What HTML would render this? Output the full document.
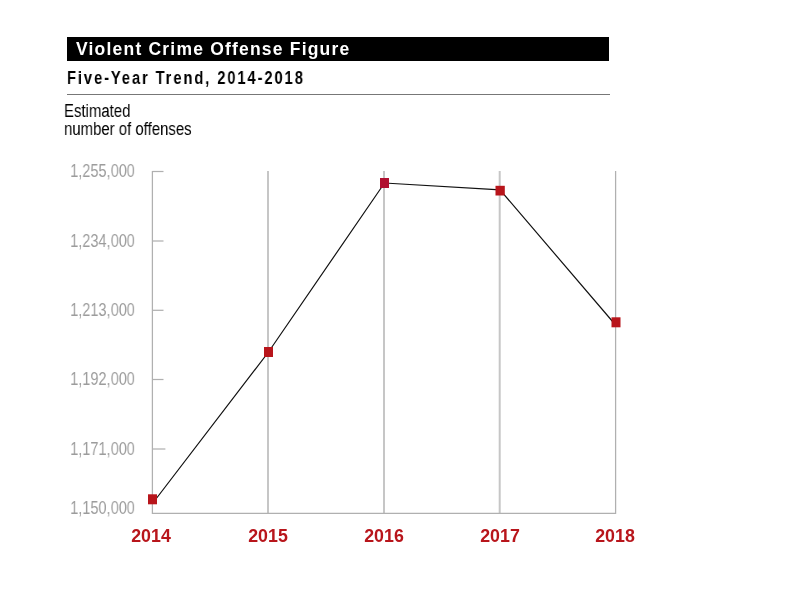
<!DOCTYPE html>
<html><head><meta charset="utf-8">
<style>
html,body{margin:0;padding:0;background:#fff;width:800px;height:600px;overflow:hidden;position:relative}
body{font-family:"Liberation Sans",sans-serif;-webkit-font-smoothing:antialiased}
.abs{will-change:transform}
.abs{position:absolute;white-space:nowrap}
#bar{left:67px;top:37px;width:542px;height:24px;background:#000}
#title{left:76px;top:38px;font-weight:bold;font-size:17.5px;line-height:22px;color:#fff;letter-spacing:1.2px}
#sub{left:67px;top:68px;font-weight:bold;font-size:18px;line-height:20px;color:#000;letter-spacing:2.3px;transform-origin:0 0;transform:scaleX(0.82)}
#rule{left:67px;top:94px;width:543px;height:1px;background:#777}
.narrow{transform-origin:0 0;transform:scaleX(0.85)}
#ylab{left:64px;top:102px;font-size:18px;line-height:18px;color:#000;transform:scaleX(0.83)}
.yt{font-size:17.5px;color:#9c9c9c;line-height:18px;transform-origin:100% 0;transform:scaleX(0.83);right:665px}
.xl{font-weight:bold;font-size:17.8px;color:#b8151b;line-height:18px;width:60px;text-align:center}
svg{position:absolute;left:0;top:0}
</style></head><body>
<div id="bar" class="abs"></div>
<div id="title" class="abs">Violent Crime Offense Figure</div>
<div id="sub" class="abs">Five-Year Trend, 2014-2018</div>
<div id="rule" class="abs"></div>
<div id="ylab" class="abs narrow">Estimated<br>number of offenses</div>

<div class="abs yt" style="top:162px">1,255,000</div>
<div class="abs yt" style="top:232px">1,234,000</div>
<div class="abs yt" style="top:301px">1,213,000</div>
<div class="abs yt" style="top:370px">1,192,000</div>
<div class="abs yt" style="top:440px">1,171,000</div>
<div class="abs yt" style="top:499px">1,150,000</div>

<svg width="800" height="600" viewBox="0 0 800 600">
  <g stroke="#c6c6c6" stroke-width="2">
    <line x1="268" y1="171" x2="268" y2="513"/>
    <line x1="384" y1="171" x2="384" y2="513"/>
    <line x1="499.7" y1="171" x2="499.7" y2="513"/>
  </g>
  <g stroke="#b0b0b0" stroke-width="1.25" fill="none">
    <polyline points="152.4,171 152.4,513.4 615.6,513.4 615.6,171"/>
    <line x1="152.4" y1="171.5" x2="163.5" y2="171.5"/>
    <line x1="152.4" y1="241" x2="163.5" y2="241"/>
    <line x1="152.4" y1="310.3" x2="163.5" y2="310.3"/>
    <line x1="152.4" y1="379.5" x2="163.5" y2="379.5"/>
    <line x1="152.4" y1="449" x2="165.4" y2="449"/>
  </g>
  <polyline points="152.5,503.5 268.5,352 384.5,183 500,189.8 616,325.5" fill="none" stroke="#111" stroke-width="1.2"/>
  <g fill="#b8151b">
    <rect x="148" y="494.3" width="9" height="10"/>
    <rect x="264" y="347" width="9" height="10"/>
    <rect x="380" y="178" width="9" height="10" fill="#b01030"/>
    <rect x="495.5" y="185.8" width="9.3" height="9.7"/>
    <rect x="611.5" y="317.3" width="9" height="10"/>
  </g>
</svg>

<div class="abs xl" style="left:121px;top:527px">2014</div>
<div class="abs xl" style="left:238px;top:527px">2015</div>
<div class="abs xl" style="left:354px;top:527px">2016</div>
<div class="abs xl" style="left:470px;top:527px">2017</div>
<div class="abs xl" style="left:585px;top:527px">2018</div>
</body></html>
